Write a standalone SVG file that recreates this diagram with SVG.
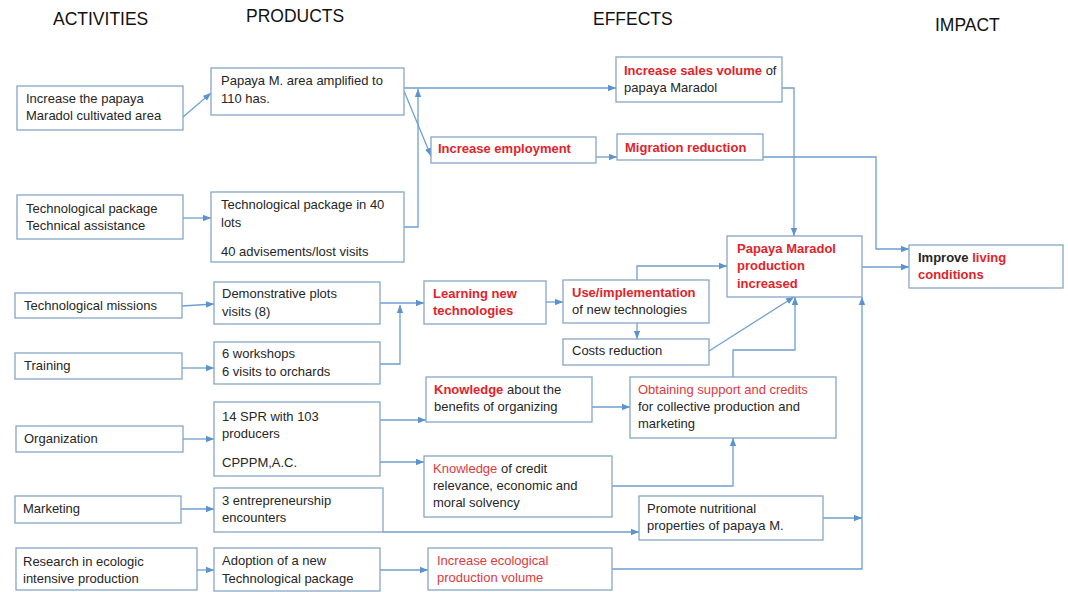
<svg xmlns="http://www.w3.org/2000/svg" width="1068" height="592" viewBox="0 0 1068 592">
<defs>
<style>
.bx{fill:#ffffff;stroke:#86a5c8;stroke-width:1.3}
.t{font-family:"Liberation Sans",Arial,sans-serif;font-size:13px;fill:#262626}
.b{font-weight:bold}
.r{fill:#e0242a}
.rl{fill:#dd3a40}
.h{font-family:"Liberation Sans",Arial,sans-serif;font-size:17.5px;fill:#111111}
.c{fill:none;stroke:#6f9fd0;stroke-width:1.3;marker-end:url(#ah)}
</style>
<marker id="ah" viewBox="0 0 10 10" refX="10" refY="5" markerWidth="8" markerHeight="8" markerUnits="userSpaceOnUse" orient="auto">
<path d="M0,1 L10,5 L0,9 z" fill="#5b93cf"/>
</marker>
</defs>
<rect width="1068" height="592" fill="#ffffff"/>
<g id="headers">
<text class="h" x="53" y="25">ACTIVITIES</text>
<text class="h" x="246" y="22">PRODUCTS</text>
<text class="h" x="593" y="25">EFFECTS</text>
<text class="h" x="935" y="31">IMPACT</text>
</g>
<g id="connectors">
<path class="c" d="M183,117 L211,93"/>
<path class="c" d="M183,218 L211,218"/>
<path class="c" d="M404,88 L616,88"/>
<path class="c" d="M404,91 L431,156"/>
<path class="c" d="M404,227 L418,227 L418,89"/>
<path class="c" d="M596,157 L617,157"/>
<path class="c" d="M782,88 L794,88 L794,236"/>
<path class="c" d="M763,157 L876,157 L876,249 L909,249"/>
<path class="c" d="M862,267 L909,267"/>
<path class="c" d="M182,306 L214,304"/>
<path class="c" d="M182,368 L214,368"/>
<path class="c" d="M380,303 L424,303"/>
<path class="c" d="M380,364 L400,364 L400,305"/>
<path class="c" d="M546,302 L563,302"/>
<path class="c" d="M637,280 L637,266 L727,266"/>
<path class="c" d="M637,323 L637,339"/>
<path class="c" d="M709,351 L794,297"/>
<path class="c" d="M733,377 L733,350 L795,350 L795,297"/>
<path class="c" d="M183,439 L214,439"/>
<path class="c" d="M380,420 L426,420"/>
<path class="c" d="M592,407 L630,407"/>
<path class="c" d="M380,462 L424,462"/>
<path class="c" d="M612,486 L733,486 L733,438"/>
<path class="c" d="M181,509 L214,509"/>
<path class="c" d="M383,532 L639,532"/>
<path class="c" d="M823,518 L862,518"/>
<path class="c" d="M197,570 L214,570"/>
<path class="c" d="M380,570 L428,570"/>
<path class="c" d="M612,569 L862,569 L862,297"/>
</g>
<g id="act1"><rect class="bx" x="17" y="86" width="166" height="44"/>
<text class="t" x="26" y="103">Increase the papaya</text>
<text class="t" x="26" y="120">Maradol cultivated area</text></g>
<g id="prod1"><rect class="bx" x="211" y="68" width="193" height="47"/>
<text class="t" x="221" y="85">Papaya M. area amplified to</text>
<text class="t" x="221" y="103">110 has.</text></g>
<g id="act2"><rect class="bx" x="17" y="195" width="166" height="44"/>
<text class="t" x="26" y="213">Technological package</text>
<text class="t" x="26" y="230">Technical assistance</text></g>
<g id="prod2"><rect class="bx" x="211" y="192" width="193" height="70"/>
<text class="t" x="221" y="209">Technological package in 40</text>
<text class="t" x="221" y="227">lots</text>
<text class="t" x="221" y="256">40 advisements/lost visits</text></g>
<g id="sales"><rect class="bx" x="616" y="57" width="166" height="45"/>
<text class="t" x="624" y="75"><tspan class="b r">Increase sales volume</tspan> of</text>
<text class="t" x="624" y="92">papaya Maradol</text></g>
<g id="employment"><rect class="bx" x="431" y="137" width="165" height="26"/>
<text class="t b r" x="438" y="153">Increase employment</text></g>
<g id="migration"><rect class="bx" x="617" y="134" width="146" height="26"/>
<text class="t b r" x="625" y="152">Migration reduction</text></g>
<g id="papaya"><rect class="bx" x="727" y="236" width="135" height="61"/>
<text class="t b r" x="737" y="253">Papaya Maradol</text>
<text class="t b r" x="737" y="270">production</text>
<text class="t b r" x="737" y="288">increased</text></g>
<g id="improve"><rect class="bx" x="909" y="245" width="154" height="43"/>
<text class="t b" x="918" y="262">Improve <tspan class="r">living</tspan></text>
<text class="t b r" x="918" y="279">conditions</text></g>
<g id="techmissions"><rect class="bx" x="15" y="293" width="167" height="25"/>
<text class="t" x="24" y="310">Technological missions</text></g>
<g id="demo"><rect class="bx" x="214" y="282" width="166" height="42"/>
<text class="t" x="222" y="298">Demonstrative plots</text>
<text class="t" x="222" y="316">visits (8)</text></g>
<g id="training"><rect class="bx" x="15" y="353" width="167" height="26"/>
<text class="t" x="24" y="370">Training</text></g>
<g id="workshops"><rect class="bx" x="214" y="342" width="166" height="42"/>
<text class="t" x="222" y="358">6 workshops</text>
<text class="t" x="222" y="376">6 visits to orchards</text></g>
<g id="learning"><rect class="bx" x="424" y="281" width="122" height="43"/>
<text class="t b r" x="433" y="298">Learning new</text>
<text class="t b r" x="433" y="315">technologies</text></g>
<g id="use"><rect class="bx" x="563" y="280" width="146" height="43"/>
<text class="t b r" x="572" y="297">Use/implementation</text>
<text class="t" x="572" y="314">of new technologies</text></g>
<g id="costs"><rect class="bx" x="563" y="339" width="146" height="26"/>
<text class="t" x="572" y="355">Costs reduction</text></g>
<g id="knowabout"><rect class="bx" x="426" y="377" width="166" height="45"/>
<text class="t" x="434" y="394"><tspan class="b r">Knowledge</tspan> about the</text>
<text class="t" x="434" y="411">benefits of organizing</text></g>
<g id="obtaining"><rect class="bx" x="630" y="377" width="206" height="61"/>
<text class="t rl" x="638" y="394">Obtaining support and credits</text>
<text class="t" x="638" y="411">for collective production  and</text>
<text class="t" x="638" y="428">marketing</text></g>
<g id="organization"><rect class="bx" x="16" y="426" width="167" height="26"/>
<text class="t" x="24" y="443">Organization</text></g>
<g id="spr"><rect class="bx" x="214" y="402" width="166" height="74"/>
<text class="t" x="222" y="421">14 SPR with 103</text>
<text class="t" x="222" y="438">producers</text>
<text class="t" x="222" y="467">CPPPM,A.C.</text></g>
<g id="knowcredit"><rect class="bx" x="424" y="456" width="188" height="61"/>
<text class="t" x="433" y="473"><tspan class="rl">Knowledge</tspan> of credit</text>
<text class="t" x="433" y="490">relevance, economic  and</text>
<text class="t" x="433" y="507">moral  solvency</text></g>
<g id="marketing"><rect class="bx" x="15" y="496" width="166" height="27"/>
<text class="t" x="23" y="513">Marketing</text></g>
<g id="entre"><rect class="bx" x="214" y="488" width="169" height="44"/>
<text class="t" x="222" y="505">3 entrepreneurship</text>
<text class="t" x="222" y="522">encounters</text></g>
<g id="promote"><rect class="bx" x="639" y="496" width="184" height="44"/>
<text class="t" x="647" y="513">Promote  nutritional</text>
<text class="t" x="647" y="530">properties  of papaya M.</text></g>
<g id="research"><rect class="bx" x="16" y="548" width="181" height="42"/>
<text class="t" x="23" y="566">Research in ecologic</text>
<text class="t" x="23" y="583">intensive production</text></g>
<g id="adoption"><rect class="bx" x="214" y="548" width="166" height="43"/>
<text class="t" x="222" y="565">Adoption  of a new</text>
<text class="t" x="222" y="583">Technological package</text></g>
<g id="ecological"><rect class="bx" x="428" y="548" width="184" height="42"/>
<text class="t rl" x="437" y="565">Increase ecological</text>
<text class="t rl" x="437" y="582">production  volume</text></g>
</svg>
